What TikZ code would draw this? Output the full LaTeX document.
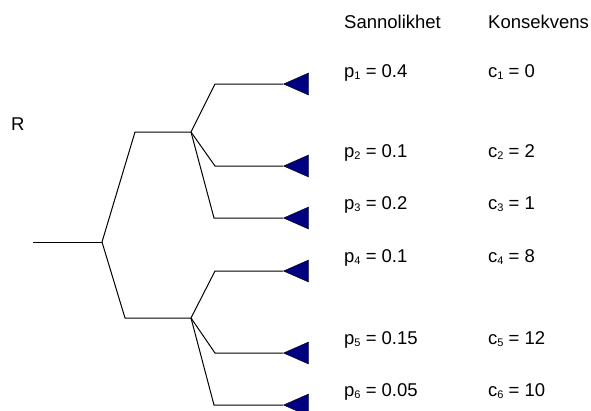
\documentclass[tikz,border=0pt]{standalone}
\usepackage{fontspec}
\setmainfont{Liberation Sans}
\usepackage{tikz}
\usetikzlibrary{shapes.geometric}
\definecolor{leafblue}{HTML}{000080}
\newcommand{\lowidx}[1]{\raisebox{-0.3ex}{\fontsize{11}{11}\selectfont #1}}

\begin{document}
\begin{tikzpicture}[
    x=1pt,y=-1pt,
    branch/.style={draw=black,line width=1pt},
    leaf/.style={isosceles triangle,shape border rotate=180,isosceles triangle stretches,minimum width=22pt,minimum height=25pt,inner sep=0pt,fill=leafblue,draw=black,line width=0.4pt},
    lbl/.style={anchor=base west,inner sep=0pt,font=\fontsize{18.5}{22}\selectfont}
]
\useasboundingbox (0,0) rectangle (591,410);
\node[lbl] (head-p) at (344,28) {Sannolikhet};
\node[lbl] (head-c) at (488,28) {Konsekvens};
\node[lbl] (root-lbl) at (11,130) {R};
\coordinate (start) at (33,242);
\coordinate (chance) at (102,242);
\coordinate (up-corner) at (135,132);
\coordinate (up-node) at (191,132);
\coordinate (low-corner) at (125,318);
\coordinate (low-node) at (191,318);
\coordinate (k1) at (215,84);
\coordinate (k2) at (215,166);
\coordinate (k3) at (214,218);
\coordinate (k4) at (215,271);
\coordinate (k5) at (215,353);
\coordinate (k6) at (214,405);
\node[leaf,anchor=apex] (t1) at (283,84) {};
\node[leaf,anchor=apex] (t2) at (283,166) {};
\node[leaf,anchor=apex] (t3) at (283,218) {};
\node[leaf,anchor=apex] (t4) at (283,271) {};
\node[leaf,anchor=apex] (t5) at (283,353) {};
\node[leaf,anchor=apex] (t6) at (283,405) {};
\draw[branch] (start) -- (chance);
\draw[branch] (chance) -- (up-corner) -- (up-node);
\draw[branch] (chance) -- (low-corner) -- (low-node);
\draw[branch] (up-node) -- (k1) -- (t1.apex);
\draw[branch] (up-node) -- (k2) -- (t2.apex);
\draw[branch] (up-node) -- (k3) -- (t3.apex);
\draw[branch] (low-node) -- (k4) -- (t4.apex);
\draw[branch] (low-node) -- (k5) -- (t5.apex);
\draw[branch] (low-node) -- (k6) -- (t6.apex);
\node[lbl] (p1) at (344,77) {p\lowidx{1} = 0.4};
\node[lbl] (c1) at (488,77) {c\lowidx{1} = 0};
\node[lbl] (p2) at (344,157) {p\lowidx{2} = 0.1};
\node[lbl] (c2) at (488,157) {c\lowidx{2} = 2};
\node[lbl] (p3) at (344,209) {p\lowidx{3} = 0.2};
\node[lbl] (c3) at (488,209) {c\lowidx{3} = 1};
\node[lbl] (p4) at (344,262) {p\lowidx{4} = 0.1};
\node[lbl] (c4) at (488,262) {c\lowidx{4} = 8};
\node[lbl] (p5) at (344,344) {p\lowidx{5} = 0.15};
\node[lbl] (c5) at (488,344) {c\lowidx{5} = 12};
\node[lbl] (p6) at (344,396) {p\lowidx{6} = 0.05};
\node[lbl] (c6) at (488,396) {c\lowidx{6} = 10};
\end{tikzpicture}
\end{document}
